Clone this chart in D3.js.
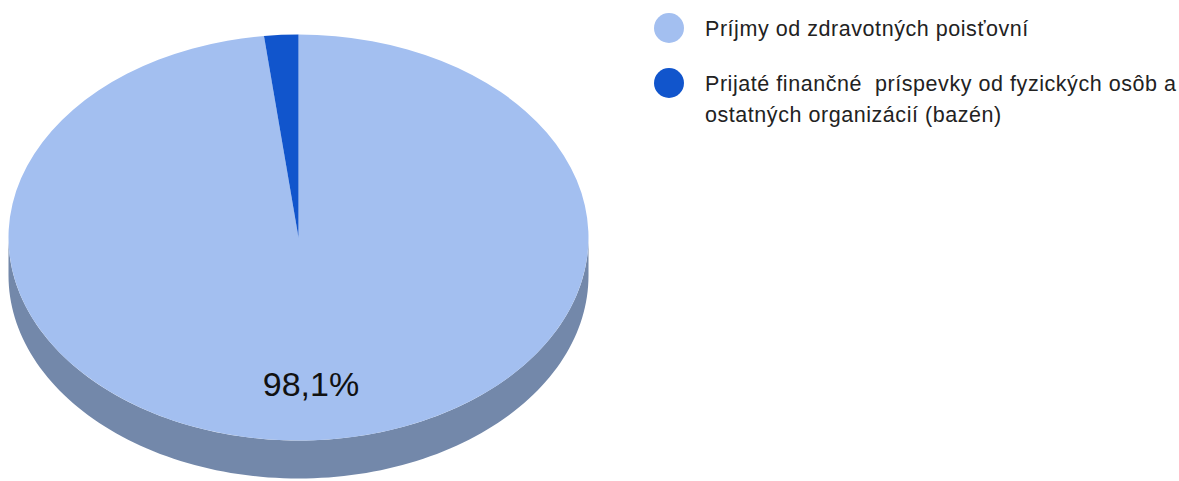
<!DOCTYPE html>
<html>
<head>
<meta charset="utf-8">
<script src="https://cdn.jsdelivr.net/npm/d3@7"></script>
<style>
  html, body { margin: 0; padding: 0; background: #fff; }
  svg { display: block; }
  text { font-family: 'Liberation Sans', Arial, sans-serif; }
</style>
</head>
<body>
<svg id="chart" width="1179" height="481"></svg>
<script>
// data
const categories = ['Príjmy od zdravotných poisťovní', 'Prijaté finančné  príspevky od fyzických osôb a ostatných organizácií (bazén)']
const legendLines = [['Príjmy od zdravotných poisťovní'], ['Prijaté finančné  príspevky od fyzických osôb a', 'ostatných organizácií (bazén)']]
const values = [98.1, 1.9]
const labels = ['98,1%', '']

const topColors = ['#a3bff0', '#1155cc']
const sideColors = ['#7388aa', '#0b3c90']

const svg = d3.select('#chart')
const cx = 298.5, cy = 237.5, rx = 290, ry = 203, depth = 38

const pie = d3.pie().sort(null).startAngle(0).endAngle(2 * Math.PI)
const arcs = pie(values)

// 椭圆上的点 (角度自顶部顺时针)
const pt = (a, dy = 0) => [cx + rx * Math.sin(a), cy - ry * Math.cos(a) + dy]

const g = svg.append('g')

// 侧面: 只画下半部分 (PI/2 .. 3PI/2)
arcs.forEach((d, i) => {
    const a0 = Math.max(d.startAngle, Math.PI / 2)
    const a1 = Math.min(d.endAngle, 3 * Math.PI / 2)
    if (a1 <= a0) return
    const n = 120
    const top = d3.range(n + 1).map((k) => pt(a0 + (a1 - a0) * k / n))
    const bottom = top.map((p, k) => pt(a0 + (a1 - a0) * k / n, depth)).reverse()
    g.append('path')
        .attr('d', d3.line()(top.concat(bottom)) + 'Z')
        .attr('fill', sideColors[i])
})

// 顶面
const arcGen = d3.arc().innerRadius(0).outerRadius(rx)
g.append('g')
    .attr('transform', `translate(${cx},${cy}) scale(1,${ry / rx})`)
    .selectAll('path')
    .data(arcs)
    .join('path')
    .attr('d', arcGen)
    .attr('fill', (d, i) => topColors[i])

// 百分比标签
arcs.forEach((d, i) => {
    if (!labels[i]) return
    const mid = (d.startAngle + d.endAngle) / 2
    const f = 0.72
    g.append('text')
        .attr('x', cx + rx * f * Math.sin(mid))
        .attr('y', cy - ry * f * Math.cos(mid))
        .attr('dy', '0.36em')
        .attr('text-anchor', 'middle')
        .attr('font-size', '34px')
        .attr('fill', '#111')
        .text(labels[i])
})

// 图例
const legend = svg.append('g').attr('transform', 'translate(669,28)')
const item = legend.selectAll('g')
    .data(categories)
    .join('g')
    .attr('transform', (d, i) => `translate(0,${i * 55})`)
item.append('circle')
    .attr('r', 15)
    .attr('fill', (d, i) => topColors[i])
item.each(function (d, i) {
    const t = d3.select(this).append('text')
        .attr('x', 36)
        .attr('y', 8)
        .attr('font-size', '21.5px')
        .attr('letter-spacing', '0.55px')
        .attr('fill', '#222')
        .style('white-space', 'pre')
    legendLines[i].forEach((line, k) => {
        t.append('tspan').attr('x', 36).attr('dy', k === 0 ? 0 : 31).text(line)
    })
})
</script>
</body>
</html>
